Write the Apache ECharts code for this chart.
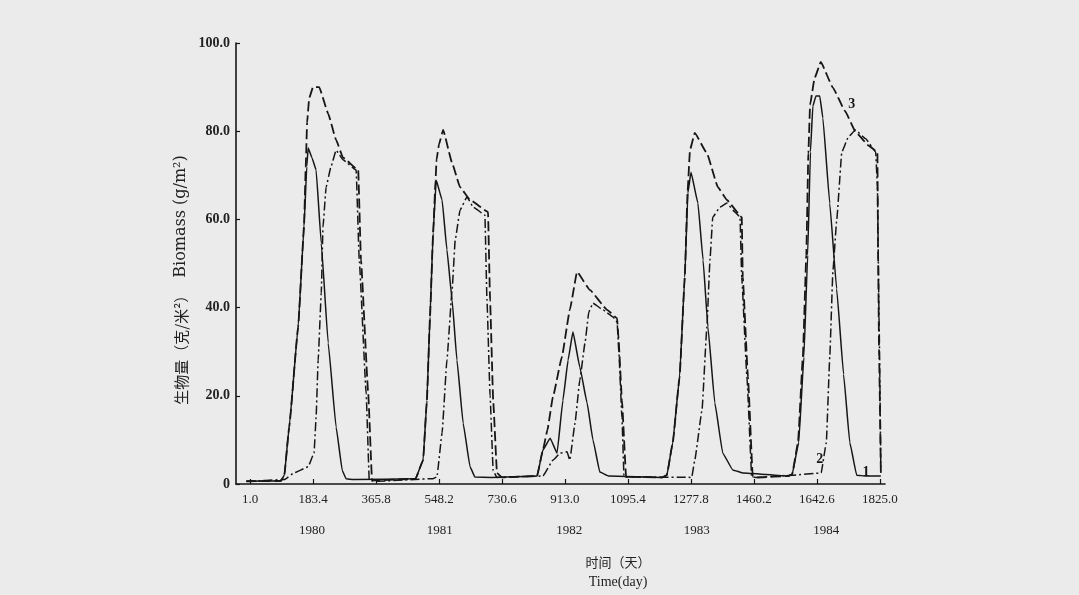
<!DOCTYPE html>
<html>
<head>
<meta charset="utf-8">
<script src="https://cdn.jsdelivr.net/npm/echarts@6/dist/echarts.min.js"></script>
<style>
html,body{margin:0;padding:0;background:#ebebeb;}
#chart{width:1079px;height:595px;}
</style>
</head>
<body>
<div id="chart"></div>
<script>
// ---- data (day, biomass g/m2) ----
const xTickValues = [1.0, 183.4, 365.8, 548.2, 730.6, 913.0, 1095.4, 1277.8, 1460.2, 1642.6, 1825.0];
const yTickValues = [0, 20, 40, 60, 80, 100];
const yearLabels = ['1980', '1981', '1982', '1983', '1984'];
const yearPositions = [180, 550, 925, 1295, 1670];

// curve 1 (solid)
const curve1 = [
  [-10,0.6],[90,0.7],[100,2],[114,12.9],[140,35.6],[157,58.3],[165,72],[169,76.2],[180,74],[192,71.2],[207,54.6],[227,32],[250,12.9],[268,3],[279,1.2],[300,1.0],
  [480,1.2],[502,5.4],[513,19],[522,37.9],[531,56.9],[540,68.9],[557,64.4],[571,53.1],[586,41.7],[600,28.1],[618,13.8],[638,3.9],[652,1.6],[700,1.5],
  [832,1.8],[849,7.7],[870,10.4],[890,7],[907,19],[922,28.1],[936,34.5],[956,26.5],[977,18.4],[994,10],[1014,2.7],[1040,1.8],
  [1195,1.5],[1208,2],[1225,9.3],[1245,24.3],[1260,46.9],[1269,66],[1278,70.7],[1298,63.7],[1313,50.8],[1327,35.6],[1347,18.4],[1370,7],[1399,3.2],[1430,2.5],
  [1560,1.8],[1571,2.2],[1590,9.4],[1605,28.8],[1616,51.9],[1624,75.3],[1631,85.7],[1640,88],[1651,88],[1660,83],[1680,63.6],[1700,44.2],[1720,24.9],[1738,9.4],[1758,2],[1785,1.8],[1828,1.8]
];

// curve 2 (dash-dot)
const curve2 = [
  [-10,0.6],[100,1.0],[128,2.5],[169,3.9],[186,7],[192,15],[198,28.1],[207,43.3],[212,58.3],[221,67.3],[235,71.9],[250,75.7],[270,73.5],[308,71.2],[317,50.8],[337,20.6],[346,0.9],[360,0.6],
  [530,1.2],[542,1.6],[557,11.6],[571,28.1],[586,44],[595,55.3],[609,62.1],[629,65.1],[647,62.8],[681,61],[687,41.7],[696,20],[705,3],[716,1.5],
  [849,1.8],[878,5.4],[899,7],[919,7.3],[927,5.4],[942,13.8],[956,23.6],[971,32],[982,39],[994,41],[1023,39.5],[1052,37.9],[1064,36.7],[1069,30],[1078,15],[1084,1.6],[1100,1.6],
  [1280,1.5],[1289,5.4],[1310,16.8],[1324,35.6],[1333,50.8],[1341,60.5],[1362,62.8],[1382,63.7],[1405,61.7],[1420,60.5],[1425,46.9],[1440,24.3],[1454,1.6],[1470,1.5],
  [1571,2],[1655,2.5],[1670,9.4],[1680,28.8],[1689,48.1],[1700,59.7],[1715,75.3],[1734,78.7],[1754,80.3],[1784,78.3],[1813,75.3],[1818,67.5],[1823,36.5],[1828,2.5]
];

// curve 3 (dashed)
const curve3 = [
  [-10,0.6],[90,0.7],[100,2],[114,12.9],[140,35.6],[157,58.3],[162,72],[166,82],[172,87.5],[183,90],[201,90],[227,84],[250,78],[270,74],[314,71.2],[322,50.8],[343,20.6],[354,0.9],[370,0.8],
  [480,1.2],[502,5.4],[513,19],[522,37.9],[531,56.9],[538,68.9],[541,73.5],[548,77],[560,80.3],[586,72.8],[609,67.3],[638,64.4],[690,61.7],[696,41.7],[705,19],[716,2.5],[730,1.5],
  [832,1.8],[849,7.7],[862,12.2],[878,19.7],[904,28.8],[927,39.5],[948,48.1],[985,44],[1035,39.5],[1064,37.6],[1068,33],[1078,19],[1090,1.6],[1100,1.6],
  [1195,1.5],[1208,2],[1225,9.3],[1245,24.3],[1260,46.9],[1268,66],[1275,75.7],[1289,79.6],[1324,75],[1356,67.3],[1382,64.4],[1425,60.5],[1428,46.9],[1443,24.3],[1457,1.6],[1470,1.5],
  [1560,1.8],[1571,2.2],[1588,9.4],[1602,28.8],[1612,51.9],[1618,75],[1623,86],[1636,92],[1654,95.7],[1689,89.9],[1724,84.6],[1755,79.8],[1793,76.7],[1818,75.3],[1820,51.9],[1823,28.8],[1828,2.5]
];

// curve number labels: [text, day, value]
const curveLabels = [['1', 1785, 2.6], ['2', 1651, 5.6], ['3', 1744, 86]];

const serif = '"Liberation Serif","DejaVu Serif",serif';
const ink = '#161616';

const chart = echarts.init(document.getElementById('chart'), null, {renderer: 'canvas'});

function labelMark(id) {
  const l = curveLabels.find(c => c[0] === id);
  return {
    symbol: 'circle', symbolSize: 0, silent: true,
    label: {show: true, position: 'inside', formatter: l[0], color: ink, fontFamily: serif, fontSize: 14, fontWeight: 'bold'},
    data: [{coord: [l[1], l[2]]}]
  };
}

const lineCommon = {type: 'line', showSymbol: false, symbol: 'none', smooth: 0.1, smoothMonotone: 'x', animation: false, z: 3};

chart.setOption({
  backgroundColor: '#ebebeb',
  animation: false,
  grid: {left: 236, right: 194, top: 43, bottom: 111, containLabel: false},
  xAxis: [{
    type: 'value', min: -40, max: 1840,
    axisLine: {show: true, onZero: false, lineStyle: {color: ink, width: 1.6}},
    axisTick: {show: true, inside: true, length: 5, customValues: xTickValues, lineStyle: {color: ink, width: 1.2}},
    axisLabel: {show: true, customValues: xTickValues, margin: 9, formatter: v => v.toFixed(1), color: '#222', fontFamily: serif, fontSize: 13},
    splitLine: {show: false}
  }, {
    type: 'value', min: -40, max: 1840, position: 'bottom', offset: 32,
    axisLine: {show: false, onZero: false}, axisTick: {show: false}, splitLine: {show: false},
    axisLabel: {show: true, customValues: yearPositions, margin: 8,
      formatter: v => yearLabels[yearPositions.indexOf(v)] || '', color: '#222', fontFamily: serif, fontSize: 13}
  }],
  yAxis: {
    type: 'value', min: 0, max: 100, interval: 20,
    axisLine: {show: true, onZero: false, lineStyle: {color: ink, width: 1.6}},
    axisTick: {show: true, inside: true, length: 4, lineStyle: {color: ink, width: 1.2}},
    axisLabel: {margin: 6, formatter: v => v === 0 ? '0' : v.toFixed(1), color: '#222', fontFamily: serif, fontSize: 14, fontWeight: 'bold'},
    splitLine: {show: false}
  },
  graphic: [
    {type: 'text', x: 181, y: 280, rotation: Math.PI / 2, style: {
      text: '{c|生物量（克/米²）}   {e|Biomass (g/m²)}',
      rich: {c: {font: '15px "Noto Sans CJK SC", sans-serif', fill: '#222'}, e: {font: '16px "DejaVu Serif", serif', fill: '#222'}},
      align: 'center', verticalAlign: 'middle'}},
    {type: 'text', x: 618, y: 562, style: {text: '时间（天）', fill: '#222', font: '13px "Noto Sans CJK SC", serif', align: 'center', verticalAlign: 'middle'}},
    {type: 'text', x: 618, y: 582, style: {text: 'Time(day)', fill: '#222', font: '14px "Liberation Serif", serif', align: 'center', verticalAlign: 'middle'}}
  ],
  series: [
    Object.assign({}, lineCommon, {name: '1', data: curve1, lineStyle: {color: ink, width: 1.5, type: 'solid'}, markPoint: labelMark('1')}),
    Object.assign({}, lineCommon, {name: '2', data: curve2, lineStyle: {color: ink, width: 1.5, type: [9, 3, 2, 3]}, markPoint: labelMark('2')}),
    Object.assign({}, lineCommon, {name: '3', data: curve3, lineStyle: {color: ink, width: 1.8, type: [10, 4]}, markPoint: labelMark('3')})
  ]
});
</script>
</body>
</html>
